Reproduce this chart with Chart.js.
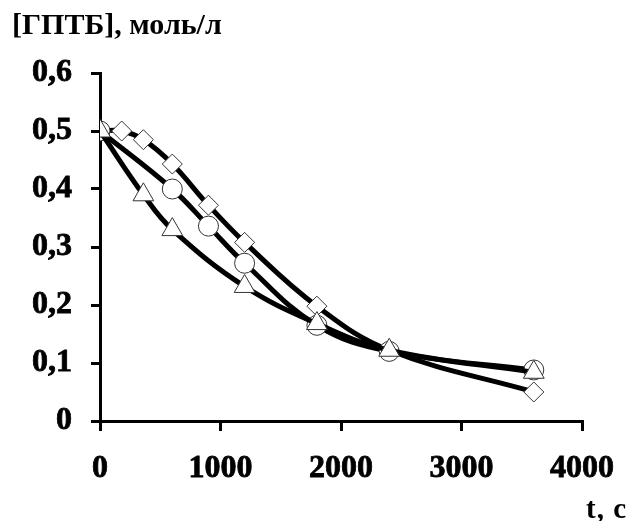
<!DOCTYPE html>
<html><head><meta charset="utf-8">
<script src="https://cdn.jsdelivr.net/npm/chart.js@4"></script>
<style>
html,body{margin:0;padding:0;background:#fff;}
#wrap{position:relative;width:627px;height:521px;overflow:hidden;}
canvas{position:absolute;left:0;top:0;}
.t{position:absolute;font-family:"Liberation Serif","Times New Roman",serif;font-weight:bold;color:#000;white-space:nowrap;line-height:1.15;}
</style></head>
<body>
<div id="wrap">
<canvas id="c" width="627" height="521"></canvas>
<div class="t" id="yt" style="left:12px;top:7px;font-size:30px;">[ГПТБ], моль/л</div>
<div class="t" id="xt" style="left:586px;top:492px;font-size:29px;letter-spacing:1px;">t, c</div>
</div>
<script>
const diamondX = [0, 180, 360, 600, 900, 1200, 1800, 2400, 3600];
const diamondY = [0.50, 0.50, 0.485, 0.443, 0.372, 0.308, 0.198, 0.122, 0.050];
const circleX = [0, 600, 900, 1200, 1800, 2400, 3600];
const circleY = [0.50, 0.400, 0.336, 0.272, 0.165, 0.120, 0.088];
const triangleX = [0, 360, 600, 1200, 1800, 2400, 3600];
const triangleY = [0.50, 0.390, 0.330, 0.232, 0.168, 0.122, 0.084];
const xTicks = [0, 1000, 2000, 3000, 4000];
const yTicks = [0, 0.1, 0.2, 0.3, 0.4, 0.5, 0.6];

function pts(xs, ys){ return xs.map((x,i)=>({x:x, y:ys[i]})); }
const common = {borderColor:'#000', borderWidth:5, pointBackgroundColor:'#fff', pointBorderColor:'#333', pointBorderWidth:1, tension:0.4, showLine:true, fill:false};
const tickFont = {family:'Liberation Serif', weight:'bold', size:32};
new Chart(document.getElementById('c'), {
  type:'scatter',
  data:{datasets:[
    Object.assign({label:'triangle', data:pts(triangleX, triangleY), pointStyle:'triangle', pointRadius:12}, common),
    Object.assign({label:'circle', data:pts(circleX, circleY), pointStyle:'circle', pointRadius:10}, common),
    Object.assign({label:'diamond', data:pts(diamondX, diamondY), pointStyle:'rectRot', pointRadius:10}, common)
  ]},
  options:{
    responsive:false, animation:false,
    layout:{padding:{left:0, right:45, top:73, bottom:0}},
    plugins:{legend:{display:false}, tooltip:{enabled:false}},
    scales:{
      x:{type:'linear', min:0, max:4000,
        afterBuildTicks:(a)=>{a.ticks = xTicks.map(v=>({value:v}));},
        afterFit:(a)=>{a.height = 100; a.paddingLeft = 0; a.paddingRight = 0;},
        border:{display:true, color:'#000', width:3},
        grid:{drawOnChartArea:false, drawTicks:true, tickLength:10, color:'#000', lineWidth:3},
        ticks:{color:'#000', padding:19, maxRotation:0, autoSkip:false, font:tickFont, textStrokeColor:'#000', textStrokeWidth:0.8,
          callback:(v)=>String(v)}
      },
      y:{type:'linear', min:0, max:0.6,
        afterBuildTicks:(a)=>{a.ticks = yTicks.map(v=>({value:v}));},
        afterFit:(a)=>{a.width = 100; a.paddingTop = 0; a.paddingBottom = 0;},
        border:{display:true, color:'#000', width:3},
        grid:{drawOnChartArea:false, drawTicks:true, tickLength:9, color:'#000', lineWidth:3},
        ticks:{color:'#000', padding:19, autoSkip:false, font:tickFont, textStrokeColor:'#000', textStrokeWidth:0.8,
          callback:(v)=> v===0 ? '0' : v.toFixed(1).replace('.', ',')}
      }
    }
  }
});
</script>
</body></html>
